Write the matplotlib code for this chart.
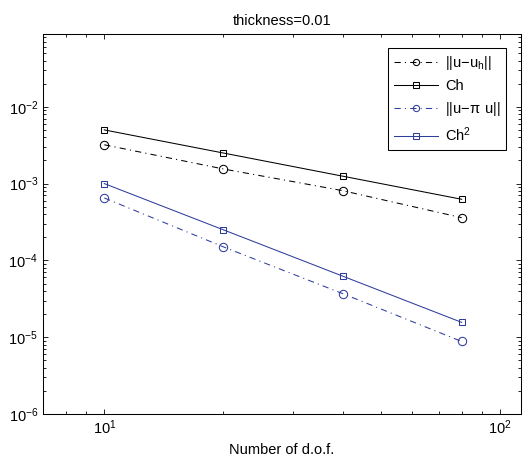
import numpy as np
import matplotlib
matplotlib.use("Agg")
import matplotlib.pyplot as plt
from matplotlib.ticker import LogLocator, NullFormatter

plt.rcParams['font.family'] = ['Liberation Sans', 'DejaVu Sans']
plt.rcParams['mathtext.default'] = 'regular'
plt.rcParams['lines.scale_dashes'] = False

# datos
dof = [10, 20, 40, 80]
err_uh = [3.2e-3, 1.55e-3, 8.1e-4, 3.6e-4]
ch = [5.0e-3, 2.5e-3, 1.25e-3, 6.25e-4]
err_pi = [6.5e-4, 1.5e-4, 3.7e-5, 8.8e-6]
ch2 = [1.0e-3, 2.5e-4, 6.25e-5, 1.56e-5]

azul = '#2e3d9c'
dashdot = (0, (4.5, 3.0, 0.8, 3.0))

fig = plt.figure(figsize=(5.23, 4.59), dpi=100)
ax = fig.add_axes([43/523, 45/459, 478/523, 380.5/459])

ax.loglog(dof, err_uh, color='k', ls=dashdot, lw=0.75, marker='o', ms=6,
          mfc='none', mew=0.75, label=r'$||u{-}u_h||$')
ax.loglog(dof, ch, color='k', ls='-', lw=0.75, marker='s', ms=5,
          mfc='none', mew=0.75, label='Ch')
ax.loglog(dof, err_pi, color=azul, ls=dashdot, lw=0.75, marker='o', ms=6,
          mfc='none', mew=0.75, label=r'$||u{-}\pi\ u||$')
ax.loglog(dof, ch2, color=azul, ls='-', lw=0.75, marker='s', ms=5,
          mfc='none', mew=0.75, label=r'$Ch^2$')

ax.set_xlim(7, 113)
ax.set_ylim(1e-6, 0.09)

ax.xaxis.set_major_locator(LogLocator(base=10, numticks=10))
ax.yaxis.set_major_locator(LogLocator(base=10, numticks=10))
ax.xaxis.set_minor_locator(LogLocator(base=10, subs=np.arange(2, 10), numticks=20))
ax.yaxis.set_minor_locator(LogLocator(base=10, subs=np.arange(2, 10), numticks=20))
ax.xaxis.set_minor_formatter(NullFormatter())
ax.yaxis.set_minor_formatter(NullFormatter())

ax.tick_params(which='both', direction='in', top=True, right=True, width=0.6,
               labelsize=10.5)
ax.tick_params(which='major', length=3.6)
ax.tick_params(which='minor', length=2.0)
for s in ax.spines.values():
    s.set_linewidth(0.75)

ax.set_title('thickness=0.01', fontsize=10.5, pad=6)
ax.set_xlabel('Number of d.o.f.', fontsize=10.5, labelpad=4)

leg = ax.legend(loc='upper right', fontsize=10.5, handlelength=3.0,
                fancybox=False, edgecolor='k', framealpha=1, markerscale=0.75,
                borderaxespad=1.0, labelspacing=0.5, handletextpad=0.5)
leg.get_frame().set_linewidth(0.75)

fig.savefig('out.png', dpi=100)
